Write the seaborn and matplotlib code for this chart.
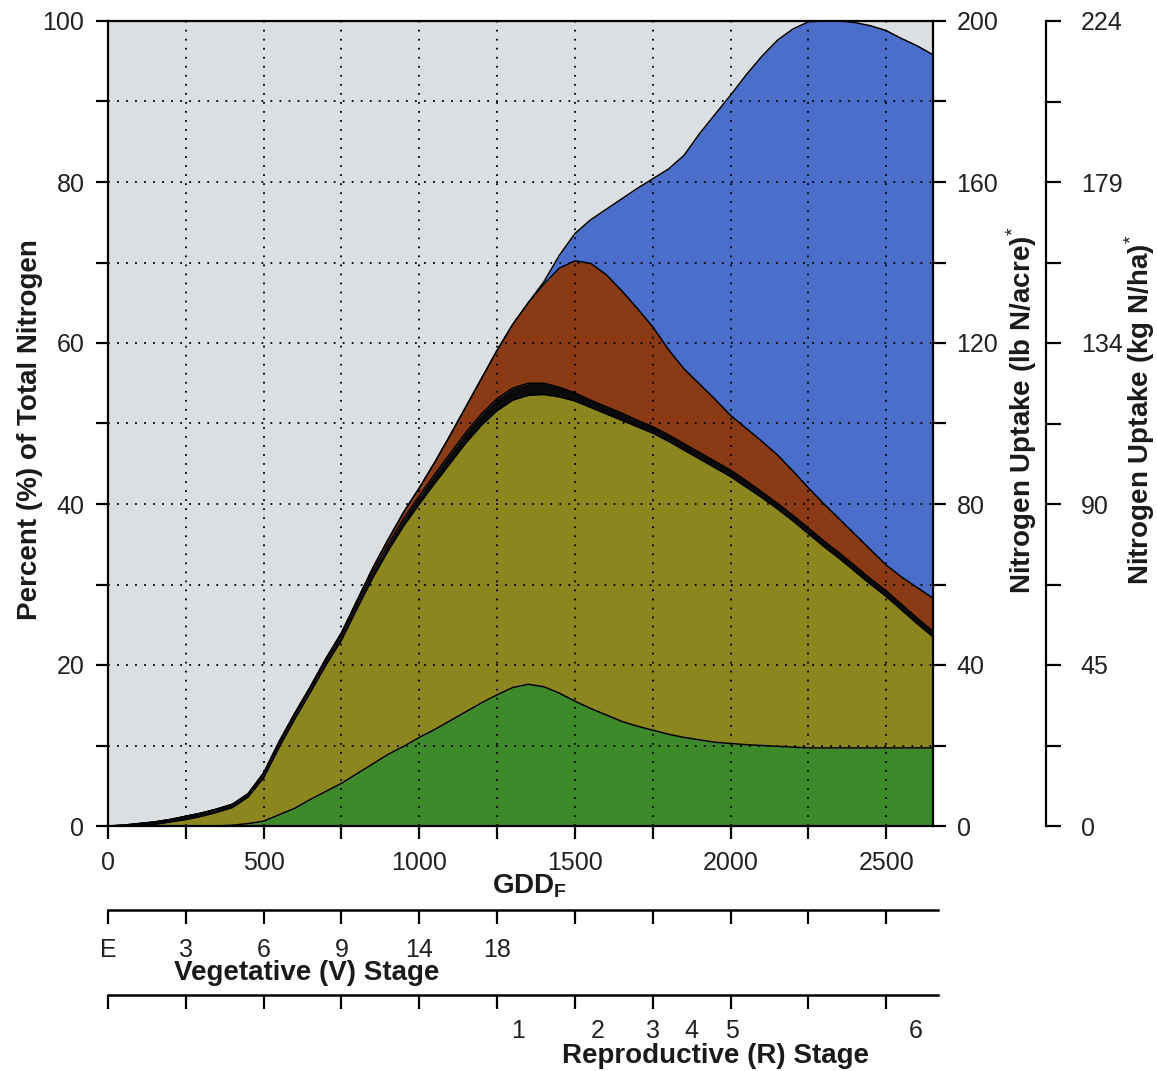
import numpy as np
import pandas as pd
import seaborn as sns
import matplotlib.pyplot as plt
from matplotlib.ticker import MultipleLocator, FixedLocator, NullFormatter

# GDD (F) sample points, every 50 GDD
gdd = list(range(0, 2651, 50))

# cumulative boundaries (% of total N), bottom layer to top
green_top = [0, 0, 0, 0, 0, 0, 0, 0, 0.1, 0.3, 0.6, 1.4, 2.2, 3.3, 4.3, 5.3, 6.5,
             7.7, 8.9, 9.9, 11.0, 12.0, 13.1, 14.2, 15.3, 16.3, 17.2, 17.6, 17.3,
             16.5, 15.5, 14.6, 13.8, 13.0, 12.4, 11.9, 11.4, 11.0, 10.7, 10.4,
             10.25, 10.1, 10.0, 9.9, 9.8, 9.7, 9.7, 9.7, 9.7, 9.7, 9.7, 9.7, 9.7,
             9.7]
olive_top = [0, 0.0, 0.1, 0.2, 0.5, 0.8, 1.2, 1.7, 2.3, 3.6, 6.0, 9.8, 13.3, 16.6,
             20.0, 23.1, 27.0, 30.8, 34.2, 37.3, 40.0, 42.6, 45.1, 47.6, 49.8, 51.6,
             52.9, 53.5, 53.6, 53.3, 52.8, 52.0, 51.2, 50.4, 49.6, 48.8, 47.8, 46.7,
             45.6, 44.5, 43.4, 42.1, 40.8, 39.4, 37.9, 36.3, 34.7, 33.2, 31.6, 30.0,
             28.5, 26.8, 25.1, 23.5]
black_top = [0, 0.1, 0.3, 0.5, 0.8, 1.2, 1.6, 2.1, 2.7, 4.0, 6.5, 10.3, 13.8, 17.1,
             20.5, 23.7, 27.6, 31.5, 35.0, 38.2, 41.0, 43.7, 46.3, 48.9, 51.2, 53.1,
             54.4, 55.0, 55.0, 54.5, 53.8, 52.9, 52.1, 51.3, 50.4, 49.6, 48.6, 47.5,
             46.4, 45.3, 44.2, 42.9, 41.5, 40.1, 38.6, 37.0, 35.4, 33.9, 32.3, 30.7,
             29.2, 27.5, 25.8, 24.2]
brown_top = [0, 0.1, 0.3, 0.5, 0.8, 1.2, 1.6, 2.1, 2.7, 4.0, 6.6, 10.5, 14.0, 17.3,
             20.8, 24.0, 28.0, 32.0, 35.6, 39.0, 42.0, 45.2, 48.6, 52.1, 55.6, 59.1,
             62.3, 65.0, 67.3, 69.3, 70.2, 69.9, 68.5, 66.5, 64.3, 62.0, 59.2, 56.8,
             54.9, 53.0, 51.0, 49.4, 47.8, 46.1, 44.1, 42.0, 40.0, 38.1, 36.2, 34.3,
             32.4, 30.9, 29.6, 28.3]
total_top = [0, 0.1, 0.3, 0.5, 0.8, 1.2, 1.6, 2.1, 2.7, 4.0, 6.6, 10.5, 14.0, 17.3,
             20.8, 24.0, 28.0, 32.0, 35.6, 39.0, 42.0, 45.2, 48.6, 52.1, 55.6, 59.1,
             62.3, 65.0, 67.6, 70.9, 73.6, 75.3, 76.6, 77.9, 79.2, 80.4, 81.6, 83.3,
             86.0, 88.4, 90.8, 93.3, 95.6, 97.6, 99.0, 99.9, 100, 100, 99.8, 99.4,
             98.8, 97.8, 96.9, 95.8]

v_stage_gdd = [0, 250, 500, 750, 1000, 1250]
v_stage_labels = ['E', '3', '6', '9', '14', '18']
r_stage_gdd = [1318, 1572, 1752, 1875, 2003, 2594]
r_stage_labels = ['1', '2', '3', '4', '5', '6']
kg_labels = ['0', '45', '90', '134', '179', '224']

sns.set_theme(style='ticks')
plt.rcParams['font.family'] = ['Liberation Sans', 'DejaVu Sans']
plt.rcParams['mathtext.fontset'] = 'custom'
plt.rcParams['mathtext.rm'] = 'Liberation Sans'
plt.rcParams['mathtext.bf'] = 'Liberation Sans:bold'

W, H = 1157, 1071
fig = plt.figure(figsize=(W / 100, H / 100), dpi=100, facecolor='white')

def frac(x0, y0, x1, y1):
    return [x0 / W, 1 - y1 / H, (x1 - x0) / W, (y1 - y0) / H]

XMAX = 2650
ax = fig.add_axes(frac(108, 21, 933, 826))
ax.set_facecolor('#dcdfe1')

df = pd.DataFrame({'gdd': gdd, 'green': green_top, 'olive': olive_top,
                   'black': black_top, 'brown': brown_top, 'total': total_top})
df['zero'] = 0.0

layers = [('zero', 'green', '#3d8a2a'), ('green', 'olive', '#8c861e'),
          ('olive', 'black', '#0a0a0a'), ('black', 'brown', '#8a3a14'),
          ('brown', 'total', '#4b6ecb')]
for lo, hi, col in layers:
    ax.fill_between(df['gdd'], df[lo], df[hi], color=col, lw=0, zorder=1)

long = df.melt(id_vars='gdd', value_vars=['green', 'olive', 'black', 'brown', 'total'],
               var_name='layer', value_name='pct')
sns.lineplot(data=long, x='gdd', y='pct', units='layer', estimator=None,
             color='black', lw=1.1, ax=ax, zorder=1.5, legend=False)

ax.set_xlim(0, XMAX)
ax.set_ylim(0, 100)
ax.xaxis.set_major_locator(MultipleLocator(500))
ax.xaxis.set_minor_locator(MultipleLocator(250))
ax.yaxis.set_major_locator(MultipleLocator(20))
ax.yaxis.set_minor_locator(MultipleLocator(10))
ax.set_axisbelow(False)
ax.grid(which='both', color='black', ls=(0, (1, 4)), lw=1.3)
ax.tick_params(which='both', direction='out', length=9, width=1.6, color='black',
               labelsize=18, labelcolor='#222222')
ax.tick_params(axis='y', pad=8)
ax.tick_params(axis='x', pad=9)
ax.set_xlabel('')
ax.set_ylabel('')
for s in ax.spines.values():
    s.set_linewidth(1.6)
    s.set_color('black')

# right axis: lb N/acre
ax_lb = ax.twinx()
ax_lb.set_ylim(0, 200)
ax_lb.yaxis.set_major_locator(MultipleLocator(40))
ax_lb.yaxis.set_minor_locator(MultipleLocator(20))
ax_lb.tick_params(which='both', direction='out', length=9, width=1.6, color='black',
                  labelsize=18, labelcolor='#222222', pad=8)
ax_lb.grid(False)
for s in ax_lb.spines.values():
    s.set_visible(False)

# far right axis: kg N/ha
ax_kg = ax.twinx()
ax_kg.spines['right'].set_position(('axes', 1.137))
ax_kg.set_ylim(0, 224)
ax_kg.yaxis.set_major_locator(FixedLocator(np.linspace(0, 224, 6)))
ax_kg.yaxis.set_minor_locator(FixedLocator(np.linspace(0, 224, 11)))
ax_kg.set_yticklabels(kg_labels)
ax_kg.tick_params(which='both', direction='out', length=11, width=1.6, color='black',
                  labelsize=18, labelcolor='#222222', pad=14)
ax_kg.grid(False)
for name, s in ax_kg.spines.items():
    s.set_visible(name == 'right')
ax_kg.spines['right'].set_linewidth(1.6)
ax_kg.spines['right'].set_color('black')

# stage axes below the GDD axis
stage_x1 = 938
stage_xmax = XMAX * (stage_x1 - 108) / (933 - 108)
for y_line, pos, labels, pad in [(910, v_stage_gdd, v_stage_labels, 20),
                                 (995, r_stage_gdd, r_stage_labels, 17)]:
    sa = fig.add_axes(frac(108, y_line - 1, stage_x1, y_line))
    sa.set_facecolor('none')
    sa.set_xlim(0, stage_xmax)
    sa.set_yticks([])
    sa.grid(False)
    for name, s in sa.spines.items():
        s.set_visible(name == 'bottom')
    sa.spines['bottom'].set_linewidth(1.8)
    sa.spines['bottom'].set_color('black')
    sa.xaxis.remove_overlapping_locs = False
    sa.xaxis.set_major_locator(MultipleLocator(250))
    sa.xaxis.set_major_formatter(NullFormatter())
    sa.tick_params(axis='x', which='major', direction='out', length=10, width=1.6,
                   color='black')
    sa.xaxis.set_minor_locator(FixedLocator(pos))
    sa.set_xticklabels(labels, minor=True)
    sa.tick_params(axis='x', which='minor', length=0, pad=pad, labelsize=18,
                   labelcolor='#222222')

lab = dict(fontsize=20, fontweight='bold', color='#1a1a1a')
fig.text(30 / W, 1 - 430 / H, 'Percent (%) of Total Nitrogen', rotation=90,
         ha='center', va='center', **lab)
fig.text(1022 / W, 1 - 410 / H, r'Nitrogen Uptake (lb N/acre)$^{*}$', rotation=90,
         ha='center', va='center', **lab)
fig.text(1140 / W, 1 - 410 / H, r'Nitrogen Uptake (kg N/ha)$^{*}$', rotation=90,
         ha='center', va='center', **lab)
fig.text(530 / W, 1 - 886 / H, r'GDD$_\mathbf{F}$', ha='center', va='center', **lab)
fig.text(307 / W, 1 - 973 / H, 'Vegetative (V) Stage', ha='center', va='center', **lab)
fig.text(715 / W, 1 - 1056 / H, 'Reproductive (R) Stage', ha='center', va='center', **lab)

fig.savefig('out.png', dpi=100, facecolor='white')
